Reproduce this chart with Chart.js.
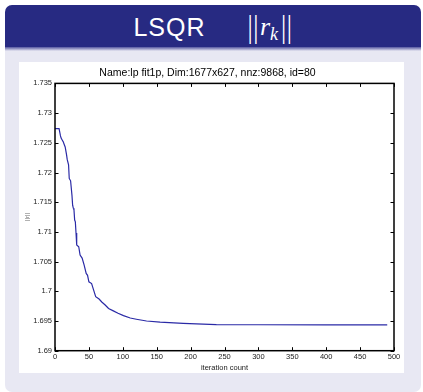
<!DOCTYPE html>
<html>
<head>
<meta charset="utf-8">
<script src="https://cdn.jsdelivr.net/npm/chart.js@4/dist/chart.umd.min.js"></script>
<style>
  html, body { margin: 0; padding: 0; background: #ffffff; width: 423px; height: 392px; overflow: hidden; }
  .frame { position: absolute; left: 5px; top: 5px; width: 416px; height: 387px; background: #E8E8F3; border-radius: 7px; overflow: hidden; }
  .header { position: absolute; left: 0; top: 0; width: 416px; height: 42px; background: #272A82;
            display: flex; align-items: center; justify-content: center; color: #fff; }
  .shade { position: absolute; left: 0; top: 42px; width: 416px; height: 4px;
           background: linear-gradient(#5557a0, #E8E8F3); }
  .ttl { font-family: "Liberation Sans", Arial, sans-serif; font-size: 25px; letter-spacing: 1px; margin-right: 42px; position: relative; top: 1px; }
  .math { font-family: "Liberation Serif", serif; display: inline-flex; align-items: baseline; position: relative; top: 1px; }
  .bars { font-size: 26px; display: inline-block; transform: scaleY(1.2); letter-spacing: 0.5px; }
  .r { font-style: italic; font-size: 26px; margin-left: 1px; }
  .k { font-style: italic; font-size: 18px; position: relative; top: 5px; margin-right: 3px; }
  .panel { position: absolute; left: 19px; top: 62px; width: 385px; height: 311px; background: #ffffff; }
  canvas { position: absolute; left: 19px; top: 62px; }
</style>
</head>
<body>
<div class="frame">
  <div class="header"><span class="ttl">LSQR</span><span class="math"><span class="bars">||</span><span class="r">r</span><span class="k">k</span><span class="bars">||</span></span></div>
  <div class="shade"></div>
</div>
<div class="panel"></div>
<canvas id="c" width="385" height="311"></canvas>
<script>
// ---- data ----
const iterations = [0, 6, 8, 9, 11, 12, 14, 15, 17, 18, 20, 21, 23, 25, 26, 27, 28, 29, 30, 31, 32, 35, 37, 40, 43, 46, 48, 50, 54, 57, 60, 65, 69, 74, 79, 86, 93, 101, 111, 120, 135, 155, 189, 238, 300, 400, 490];
const residualNorm = [1.7274, 1.7274, 1.7262, 1.7258, 1.7254, 1.7252, 1.7246, 1.7243, 1.7230, 1.7222, 1.7213, 1.7190, 1.7186, 1.7162, 1.7145, 1.7140, 1.7137, 1.7120, 1.7117, 1.7098, 1.7078, 1.7075, 1.7061, 1.7056, 1.7044, 1.7030, 1.7027, 1.7016, 1.7013, 1.7002, 1.6991, 1.6987, 1.6982, 1.6977, 1.6971, 1.6967, 1.6963, 1.6959, 1.6955, 1.6953, 1.6950, 1.6948, 1.6946, 1.6944, 1.69437, 1.69435, 1.69435];
const xTicks = [0, 50, 100, 150, 200, 250, 300, 350, 400, 450, 500];
const xTickLabels = ['0', '50', '100', '150', '200', '250', '300', '350', '400', '450', '500'];
const yTicks = [1.69, 1.695, 1.7, 1.705, 1.71, 1.715, 1.72, 1.725, 1.73, 1.735];
const yTickLabels = ['1.69', '1.695', '1.7', '1.705', '1.71', '1.715', '1.72', '1.725', '1.73', '1.735'];
const chartTitle = 'Name:lp fit1p, Dim:1677x627, nnz:9868, id=80';
const xTitle = 'iteration count';
const yTitle = '||r||';

const points = iterations.map((it, i) => ({ x: it, y: residualNorm[i] }));

const boxTicks = {
  id: 'boxTicks',
  afterDatasetsDraw(chart) {
    const { ctx, chartArea: a, scales: { x, y } } = chart;
    const L = 3.5;
    ctx.save();
    ctx.strokeStyle = '#000';
    ctx.lineWidth = 1;
    ctx.beginPath();
    x.ticks.forEach(t => {
      const px = Math.round(x.getPixelForValue(t.value)) + 0.5;
      ctx.moveTo(px, a.bottom); ctx.lineTo(px, a.bottom - L);
      ctx.moveTo(px, a.top); ctx.lineTo(px, a.top + L);
    });
    y.ticks.forEach(t => {
      const py = Math.round(y.getPixelForValue(t.value)) + 0.5;
      ctx.moveTo(a.left, py); ctx.lineTo(a.left + L, py);
      ctx.moveTo(a.right, py); ctx.lineTo(a.right - L, py);
    });
    ctx.stroke();
    ctx.lineWidth = 1.5;
    ctx.strokeRect(a.left, a.top, a.right - a.left, a.bottom - a.top);
    ctx.restore();
  }
};

const font = 'Liberation Sans, Arial, Helvetica, sans-serif';

new Chart(document.getElementById('c'), {
  type: 'line',
  data: {
    datasets: [{
      data: points,
      borderColor: '#2a2aa6',
      borderWidth: 1.2,
      pointRadius: 0,
      tension: 0,
      fill: false
    }]
  },
  options: {
    responsive: false,
    devicePixelRatio: 1,
    animation: false,
    layout: { padding: { left: 2, right: 10, top: 0, bottom: 0 } },
    plugins: {
      legend: { display: false },
      tooltip: { enabled: false },
      title: {
        display: true,
        text: chartTitle,
        color: '#000',
        font: { family: font, size: 10.5, weight: 'normal', lineHeight: 1.2 },
        padding: { top: 4.5, bottom: 4.3 }
      }
    },
    scales: {
      x: {
        type: 'linear',
        min: 0, max: 500,
        grid: { display: false, drawTicks: false },
        border: { display: false },
        afterBuildTicks: s => { s.ticks = xTicks.map(v => ({ value: v })); },
        afterFit: s => { s.height = 22.3; },
        ticks: {
          color: '#222',
          padding: 2,
          maxRotation: 0,
          font: { family: font, size: 7.5 },
          callback: (v, i) => xTickLabels[i]
        },
        title: {
          display: true, text: xTitle, color: '#222',
          font: { family: font, size: 7.5 },
          padding: { top: 0, bottom: 1 }
        }
      },
      y: {
        type: 'linear',
        min: 1.69, max: 1.735,
        grid: { display: false, drawTicks: false },
        border: { display: false },
        afterBuildTicks: s => { s.ticks = yTicks.map(v => ({ value: v })); },
        afterFit: s => { s.width = 34; },
        ticks: {
          color: '#222',
          padding: 3,
          font: { family: font, size: 7.5 },
          callback: (v, i) => yTickLabels[i]
        },
        title: {
          display: true, text: yTitle, color: '#666',
          font: { family: font, size: 6 },
          padding: { top: 2.4, bottom: 0 }
        }
      }
    }
  },
  plugins: [boxTicks]
});
</script>
</body>
</html>
